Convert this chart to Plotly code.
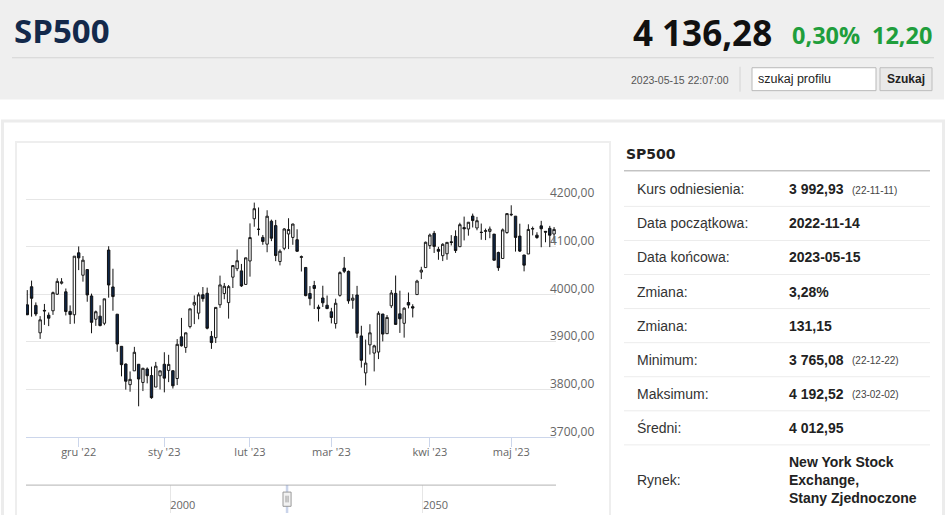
import plotly.graph_objects as go

W, H = 948, 515

# --- data: SP500 daily candles (bankier.pl profile, 2022-11-14 .. 2023-05-15) ---
DATES = [
    "2022-11-14", "2022-11-15", "2022-11-16", "2022-11-17", "2022-11-18", "2022-11-21",
    "2022-11-22", "2022-11-23", "2022-11-25", "2022-11-28", "2022-11-29", "2022-11-30",
    "2022-12-01", "2022-12-02", "2022-12-05", "2022-12-06", "2022-12-08", "2022-12-09",
    "2022-12-12", "2022-12-13", "2022-12-14", "2022-12-15", "2022-12-16", "2022-12-19",
    "2022-12-20", "2022-12-21", "2022-12-22", "2022-12-23", "2022-12-27", "2022-12-28",
    "2022-12-29", "2022-12-30",
    "2023-01-03", "2023-01-04", "2023-01-05", "2023-01-06", "2023-01-09", "2023-01-10",
    "2023-01-11", "2023-01-12", "2023-01-13", "2023-01-17", "2023-01-18", "2023-01-19",
    "2023-01-20", "2023-01-23", "2023-01-24", "2023-01-25", "2023-01-26", "2023-01-27",
    "2023-01-30", "2023-01-31",
    "2023-02-01", "2023-02-02", "2023-02-03", "2023-02-06", "2023-02-07", "2023-02-08",
    "2023-02-09", "2023-02-10", "2023-02-13", "2023-02-14", "2023-02-15", "2023-02-16",
    "2023-02-17", "2023-02-21", "2023-02-22", "2023-02-23", "2023-02-24", "2023-02-27",
    "2023-02-28",
    "2023-03-01", "2023-03-02", "2023-03-03", "2023-03-06", "2023-03-07", "2023-03-08",
    "2023-03-09", "2023-03-10", "2023-03-13", "2023-03-14", "2023-03-15", "2023-03-16",
    "2023-03-17", "2023-03-20", "2023-03-21", "2023-03-22", "2023-03-23", "2023-03-24",
    "2023-03-27", "2023-03-28", "2023-03-29", "2023-03-30", "2023-03-31",
    "2023-04-03", "2023-04-04", "2023-04-05", "2023-04-06", "2023-04-10", "2023-04-11",
    "2023-04-12", "2023-04-13", "2023-04-14", "2023-04-17", "2023-04-18", "2023-04-19",
    "2023-04-20", "2023-04-21", "2023-04-24", "2023-04-25", "2023-04-26", "2023-04-27",
    "2023-04-28",
    "2023-05-01", "2023-05-02", "2023-05-03", "2023-05-04", "2023-05-05", "2023-05-08",
    "2023-05-09", "2023-05-10", "2023-05-11", "2023-05-12", "2023-05-15",
]

OPEN = [
    3977.97, 4016.00, 3976.82, 3919.26, 3966.39, 3956.23, 3965.51, 4000.30, 4023.34, 4005.36,
    3964.19, 3957.18,
    4087.14, 4040.17, 4052.02, 3996.63, 3947.79, 3954.17, 3939.29, 4093.00, 4015.54, 3958.37,
    3890.91, 3853.79, 3810.47, 3839.49, 3853.26, 3815.11, 3843.34, 3829.56, 3805.45, 3829.06,
    3853.29, 3840.36, 3839.74, 3823.37, 3910.82, 3888.57, 3932.35, 3977.57, 3960.60, 3999.28,
    4002.25, 3911.84, 3909.04, 3978.14, 4001.74, 3982.71, 4036.08, 4053.72, 4049.27, 4020.85,
    4070.07, 4158.68, 4136.69, 4119.57, 4105.35, 4153.47, 4144.25, 4068.92, 4096.62, 4126.70,
    4119.50, 4114.75, 4077.39, 4056.46, 4001.83, 4018.60, 3973.24, 3992.36, 3977.19,
    3963.34, 3938.68, 3998.02, 4055.15, 4048.26, 3987.55, 3998.66, 3912.77, 3835.12, 3894.01,
    3876.74, 3878.93, 3958.69, 3917.47, 3975.89, 4002.04, 3959.21, 3939.21, 3982.93, 3974.13,
    3999.53, 4046.74, 4056.18,
    4102.20, 4128.03, 4094.50, 4081.15, 4085.20, 4110.29, 4121.72, 4100.04, 4140.11, 4137.17,
    4164.26, 4139.33, 4130.48, 4132.14, 4132.07, 4126.43, 4087.78, 4075.29, 4129.63,
    4166.79, 4164.10, 4122.25, 4082.61, 4084.73, 4136.98, 4124.25, 4143.74, 4132.24, 4138.54,
    4126.65,
]

HIGH = [
    4008.97, 4028.84, 3983.09, 3954.33, 3979.89, 3962.00, 4005.88, 4033.78, 4034.02, 4012.27,
    3976.77, 4080.11,
    4100.51, 4080.48, 4052.45, 4001.51, 3966.00, 3977.02, 3990.71, 4100.96, 4053.76, 3958.37,
    3890.91, 3854.86, 3838.24, 3889.82, 3853.26, 3845.80, 3846.65, 3848.32, 3858.19, 3839.85,
    3878.46, 3873.16, 3839.74, 3906.19, 3950.57, 3919.83, 3970.07, 3997.76, 4003.95, 4015.39,
    4014.16, 3922.94, 3972.96, 4039.31, 4023.92, 4019.55, 4061.57, 4094.21, 4063.85, 4077.16,
    4148.95, 4192.52, 4182.36, 4124.63, 4176.54, 4156.85, 4156.23, 4094.36, 4138.90, 4159.77,
    4148.11, 4136.54, 4081.51, 4056.46, 4017.37, 4028.30, 3978.25, 4018.05, 3997.50,
    3971.73, 3990.84, 4048.29, 4078.49, 4050.00, 4000.41, 4017.81, 3934.05, 3905.05, 3937.29,
    3894.26, 3964.46, 3958.91, 3956.62, 4009.08, 4039.49, 4007.66, 3972.74, 4003.83, 3979.20,
    4030.59, 4057.85, 4110.75,
    4127.66, 4133.13, 4099.69, 4107.32, 4109.50, 4124.26, 4134.37, 4150.26, 4163.19, 4151.72,
    4169.48, 4162.57, 4148.57, 4138.02, 4142.41, 4126.43, 4089.67, 4138.24, 4170.06,
    4186.92, 4164.10, 4148.30, 4082.61, 4147.02, 4142.30, 4130.35, 4154.28, 4132.80, 4143.74,
    4141.25,
]

LOW = [
    3956.40, 3953.17, 3954.34, 3906.54, 3935.98, 3933.34, 3956.88, 3998.66, 4020.76, 3955.77,
    3937.65, 3938.58,
    4050.87, 4026.63, 3984.49, 3918.39, 3933.84, 3933.04, 3935.30, 3993.03, 3965.65, 3879.45,
    3827.91, 3800.04, 3795.62, 3839.49, 3765.08, 3797.01, 3813.22, 3780.78, 3805.45, 3800.34,
    3794.33, 3815.77, 3802.42, 3809.56, 3890.42, 3877.29, 3928.54, 3937.56, 3947.67, 3984.57,
    3926.59, 3885.54, 3897.86, 3971.64, 3989.79, 3949.06, 4013.29, 4048.70, 4015.55, 4020.44,
    4037.20, 4141.88, 4123.36, 4103.98, 4088.39, 4111.67, 4069.67, 4060.79, 4092.67, 4095.01,
    4103.98, 4089.43, 4047.95, 3995.97, 3976.90, 3969.19, 3943.08, 3973.55, 3968.98,
    3939.05, 3928.16, 3995.17, 4044.61, 3980.31, 3969.76, 3908.70, 3846.32, 3808.86, 3873.63,
    3838.24, 3864.11, 3901.27, 3916.89, 3971.19, 3936.17, 3919.05, 3909.16, 3970.49, 3951.53,
    3999.53, 4032.10, 4056.18,
    4095.31, 4086.87, 4072.56, 4069.84, 4072.55, 4102.61, 4086.94, 4099.40, 4113.20, 4123.18,
    4140.36, 4134.49, 4114.57, 4113.86, 4117.77, 4071.38, 4049.35, 4075.29, 4127.18,
    4164.12, 4089.72, 4088.86, 4048.28, 4084.73, 4123.81, 4116.65, 4098.92, 4109.29, 4099.12,
    4110.27,
]

CLOSE = [
    3957.25, 3991.73, 3958.79, 3946.56, 3965.34, 3949.94, 4003.58, 4027.26, 4026.12, 3963.94,
    3957.63, 4080.11,
    4076.57, 4071.70, 3998.84, 3941.26, 3963.51, 3934.38, 3990.56, 4019.65, 3995.32, 3895.75,
    3852.36, 3817.66, 3821.62, 3878.44, 3822.39, 3844.82, 3829.25, 3783.22, 3849.28, 3839.50,
    3824.14, 3852.97, 3808.10, 3895.08, 3892.09, 3919.25, 3969.61, 3983.17, 3999.09, 3990.97,
    3928.86, 3898.85, 3972.61, 4019.81, 4016.95, 4016.22, 4060.43, 4070.56, 4017.77, 4076.60,
    4119.21, 4179.76, 4136.48, 4111.08, 4164.00, 4117.86, 4081.50, 4090.46, 4137.29, 4136.13,
    4147.60, 4090.41, 4079.09, 3997.34, 3991.05, 4012.32, 3970.04, 3982.24, 3970.15,
    3951.39, 3981.35, 4045.64, 4048.42, 3986.37, 3992.01, 3918.32, 3861.59, 3855.76, 3919.29,
    3891.93, 3960.28, 3916.64, 3951.57, 4002.87, 3936.97, 3948.72, 3970.99, 3977.53, 3971.27,
    4027.81, 4050.83, 4109.31,
    4124.51, 4100.60, 4090.38, 4105.02, 4109.11, 4108.94, 4091.95, 4146.22, 4137.64, 4151.32,
    4154.87, 4154.52, 4129.79, 4133.52, 4137.04, 4071.63, 4055.99, 4135.35, 4169.48,
    4167.87, 4119.58, 4090.75, 4061.22, 4136.25, 4138.12, 4119.17, 4137.64, 4130.62, 4124.08,
    4136.28,
]

MONTHS_PL = ["sty", "lut", "mar", "kwi", "maj", "cze", "lip", "sie", "wrz", "paź", "lis", "gru"]
Y_TICKS = [3700, 3800, 3900, 4000, 4100, 4200, 4300]
NAV_TICKS = [2000, 2050]

TICKER = "SP500"
TIMESTAMP = "2023-05-15 22:07:00"
REF_PRICE = 3992.93
REF_DATE = "22-11-11"
CHANGE_PCT_TXT = "3,28%"
CHANGE_TXT = "131,15"
AVERAGE = 4012.95
MARKET = "New York Stock<br>Exchange,<br>Stany Zjednoczone"


def pl(v):
    return f"{v:,.2f}".replace(",", " ").replace(".", ",")


def short(d):
    return d[2:]


def xp(x):
    return x / W


def yp(y):
    return 1 - y / H


idx = list(range(len(DATES)))

# month ticks at first session of each month
tickvals, ticktext = [], []
for i in range(1, len(DATES)):
    if DATES[i][:7] != DATES[i - 1][:7]:
        m = int(DATES[i][5:7])
        tickvals.append(i)
        ticktext.append(f"{MONTHS_PL[m - 1]} '{DATES[i][2:4]}")

i_min = LOW.index(min(LOW))
i_max = HIGH.index(max(HIGH))
last, prev = CLOSE[-1], CLOSE[-2]
chg = last - prev
chg_pct = chg / prev * 100

OPEN_SANS = "Open Sans"
ARIAL = "Liberation Sans, Arial"
GREY_TXT = "#666666"

fig = go.Figure()
fig.add_trace(go.Candlestick(
    x=idx, open=OPEN, high=HIGH, low=LOW, close=CLOSE,
    increasing=dict(line=dict(color="#1a1a1a", width=1), fillcolor="#ffffff"),
    decreasing=dict(line=dict(color="#111111", width=1), fillcolor="#0d2547"),
    showlegend=False, hoverinfo="skip",
))
# empty trace so the navigator axis gets drawn
fig.add_trace(go.Scatter(x=[], y=[], xaxis="x3", yaxis="y3", showlegend=False, hoverinfo="skip"))


def year_frac(d):
    y, m, dd = int(d[:4]), int(d[5:7]), int(d[8:10])
    days = [31, 28, 31, 30, 31, 30, 31, 31, 30, 31, 30, 31]
    return y + (sum(days[:m - 1]) + dd - 1) / 365


nav0, nav1 = year_frac(DATES[0]), year_frac(DATES[-1])
navc = (nav0 + nav1) / 2

shapes = [
    # header band
    dict(type="rect", xref="paper", yref="paper", x0=xp(0), x1=xp(944), y0=yp(100), y1=yp(0),
         fillcolor="#efefef", line=dict(width=0), layer="below"),
    dict(type="line", xref="paper", yref="paper", x0=xp(12), x1=xp(934), y0=yp(58), y1=yp(58),
         line=dict(color="#d4d4d4", width=1)),
    dict(type="line", xref="paper", yref="paper", x0=xp(740), x1=xp(740), y0=yp(67), y1=yp(92),
         line=dict(color="#d4d4d4", width=1)),
    dict(type="rect", xref="paper", yref="paper", x0=xp(752), x1=xp(876), y0=yp(91), y1=yp(68),
         fillcolor="#ffffff", line=dict(color="#b9b9b9", width=1)),
    dict(type="rect", xref="paper", yref="paper", x0=xp(880), x1=xp(932), y0=yp(91), y1=yp(68),
         fillcolor="#e9e9e9", line=dict(color="#bdbdbd", width=1)),
    # content frame
    dict(type="rect", xref="paper", yref="paper", x0=xp(2.5), x1=xp(943.5), y0=yp(530), y1=yp(121.5),
         line=dict(color="#ececec", width=3), layer="below"),
    dict(type="rect", xref="paper", yref="paper", x0=xp(16), x1=xp(610), y0=yp(530), y1=yp(142.5),
         line=dict(color="#eeeeee", width=2), layer="below"),
    # table title underline
    dict(type="line", xref="paper", yref="paper", x0=xp(624), x1=xp(930), y0=yp(171.5), y1=yp(171.5),
         line=dict(color="#a6a6a6", width=1)),
    # navigator
    dict(type="line", xref="x3 domain", yref="y3 domain", x0=0, x1=1, y0=1, y1=1,
         line=dict(color="#b3b3b3", width=1)),
    dict(type="rect", xref="x3", yref="y3 domain", x0=nav0, x1=nav1, y0=0, y1=1,
         fillcolor="rgba(102,133,194,0.35)", line=dict(width=0)),
    dict(type="rect", xref="x3", yref="y3 domain", x0=navc - 0.8, x1=navc + 0.8, y0=0.24, y1=0.75,
         fillcolor="#f2f2f2", line=dict(color="#999999", width=1)),
    dict(type="line", xref="x3", yref="y3 domain", x0=navc - 0.2, x1=navc - 0.2, y0=0.38, y1=0.62,
         line=dict(color="#999999", width=1)),
    dict(type="line", xref="x3", yref="y3 domain", x0=navc + 0.2, x1=navc + 0.2, y0=0.38, y1=0.62,
         line=dict(color="#999999", width=1)),
]

annotations = [
    dict(x=xp(12), y=yp(31), text=f"<b>{TICKER}</b>", xanchor="left",
         font=dict(family=OPEN_SANS, size=33, color="#13294b")),
    dict(x=xp(774), y=yp(33), text=f"<b>{pl(last)}</b>", xanchor="right",
         font=dict(family=OPEN_SANS, size=35, color="#111111")),
    dict(x=xp(790), y=yp(35), text=f"<b>{pl(chg_pct)}%</b>", xanchor="left",
         font=dict(family=OPEN_SANS, size=23.5, color="#1f9e3c")),
    dict(x=xp(934), y=yp(35), text=f"<b>{pl(chg)}</b>", xanchor="right",
         font=dict(family=OPEN_SANS, size=23.5, color="#1f9e3c")),
    dict(x=xp(731), y=yp(80), text=TIMESTAMP, xanchor="right",
         font=dict(family=ARIAL, size=10.5, color="#555555")),
    dict(x=xp(756), y=yp(79.5), text="szukaj profilu", xanchor="left",
         font=dict(family=ARIAL, size=12.5, color="#222222")),
    dict(x=xp(906), y=yp(79.5), text="<b>Szukaj</b>", xanchor="center",
         font=dict(family=ARIAL, size=12, color="#222222")),
    dict(x=xp(624), y=yp(155), text=f"<b>{TICKER}</b>", xanchor="left",
         font=dict(family="DejaVu Sans", size=14, color="#222222")),
]

row_labels = ["Kurs odniesienia:", "Data początkowa:", "Data końcowa:", "Zmiana:", "Zmiana:",
              "Minimum:", "Maksimum:", "Średni:", "Rynek:"]
row_values = [pl(REF_PRICE), DATES[0], DATES[-1], CHANGE_PCT_TXT, CHANGE_TXT,
              pl(LOW[i_min]), pl(HIGH[i_max]), pl(AVERAGE), MARKET]
row_notes = [f"({REF_DATE})", "", "", "", "", f"({short(DATES[i_min])})",
             f"({short(DATES[i_max])})", "", ""]

ROW_TOP, ROW_H = 173, 34.2
for i, (lab, val, note) in enumerate(zip(row_labels, row_values, row_notes)):
    yc = ROW_TOP + ROW_H * (i + 0.5) if i < len(row_labels) - 1 else 482
    annotations.append(dict(x=xp(635), y=yp(yc), text=lab, xanchor="left",
                            font=dict(family=ARIAL, size=14, color="#333333")))
    annotations.append(dict(x=xp(787), y=yp(yc), text=f"<b>{val}</b>", xanchor="left", align="left",
                            font=dict(family=ARIAL, size=14, color="#222222")))
    if note:
        annotations.append(dict(x=xp(850), y=yp(yc + 1), text=note, xanchor="left",
                                font=dict(family=ARIAL, size=10, color="#444444")))
    if i < len(row_labels) - 1:
        ys = ROW_TOP + ROW_H * (i + 1)
        shapes.append(dict(type="line", xref="paper", yref="paper", x0=xp(624), x1=xp(930),
                           y0=yp(ys), y1=yp(ys), line=dict(color="#ececec", width=1)))

for a in annotations:
    a.update(xref="paper", yref="paper", showarrow=False, yanchor="middle")

fig.update_layout(
    width=W, height=H,
    margin=dict(l=0, r=0, t=0, b=0),
    paper_bgcolor="#ffffff", plot_bgcolor="rgba(0,0,0,0)",
    separators=", ",
    boxgap=0.2,
    showlegend=False,
    xaxis=dict(
        domain=[xp(26), xp(556)], range=[-0.3, len(DATES) - 0.55],
        tickvals=tickvals, ticktext=ticktext,
        ticks="outside", ticklen=9, tickcolor="#ccd6eb", tickwidth=1,
        showline=True, linecolor="#ccd6eb", linewidth=1,
        showgrid=False, zeroline=False, ticklabelstandoff=-4,
        tickfont=dict(family=OPEN_SANS, size=11, color=GREY_TXT),
        rangeslider=dict(visible=False), anchor="y", fixedrange=True,
    ),
    yaxis=dict(
        domain=[yp(439), yp(152)], range=[3700, 4300], side="right",
        tickvals=Y_TICKS, ticktext=[f"{v:.2f}".replace(".", ",") if v < 4300 else "" for v in Y_TICKS],
        showgrid=True, gridcolor="#e6e6e6", gridwidth=1, zeroline=False, showline=False,
        ticks="", ticklabelshift=-6, ticklabelstandoff=-7,
        tickfont=dict(family=OPEN_SANS, size=12, color=GREY_TXT), fixedrange=True,
    ),
    xaxis3=dict(
        domain=[xp(26), xp(556)], range=[1971.5, 2076.3], anchor="y3",
        tickvals=NAV_TICKS, ticktext=[str(v) for v in NAV_TICKS],
        showgrid=True, gridcolor="#e6e6e6", zeroline=False, showline=False, ticks="",
        ticklabelposition="inside right", ticklabelstandoff=-4, fixedrange=True,
        tickfont=dict(family=OPEN_SANS, size=11, color=GREY_TXT),
    ),
    yaxis3=dict(domain=[0, yp(487)], range=[0, 1], visible=False, anchor="x3", fixedrange=True),
    shapes=shapes,
    annotations=annotations,
)

# drop the default page margin so the figure sits at the window's top-left corner
fig.write_html("out.html", config={"displayModeBar": False},
               post_script="document.body.style.margin='0';")
